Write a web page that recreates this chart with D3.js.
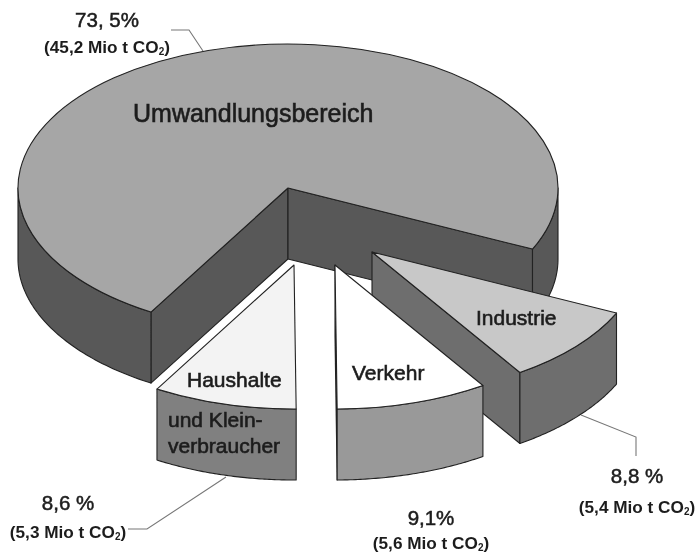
<!DOCTYPE html>
<html>
<head>
<meta charset="utf-8">
<script src="https://cdn.jsdelivr.net/npm/d3@7"></script>
<style>
html,body{margin:0;padding:0;background:#fff;}
svg{display:block;}
text{font-family:"Liberation Sans",Arial,sans-serif;fill:#1c1c1c;}
</style>
</head>
<body>
<svg id="chart" width="698" height="552"></svg>
<script>
// ---- data ----
const categories = ["Umwandlungsbereich", "Industrie", "Verkehr", "Haushalte und Kleinverbraucher"];
const shares = [73.5, 8.8, 9.1, 8.6];
const percentLabels = ["73, 5%", "8,8 %", "9,1%", "8,6 %"];
const tonnes = ["45,2", "5,4", "5,6", "5,3"];

// ---- styles / layout ----
const topColors = ["#a6a6a6", "#c8c8c8", "#ffffff", "#f3f3f3"];
const sideColors = ["#585858", "#6e6e6e", "#999999", "#808080"];
const explodeX = [0, 84, 47, 6];
const explodeY = [0, 64, 77, 77];
const percentAnchors = [[107, 27], [637, 483], [431, 525], [68, 510]];
const tonneAnchors = [[107, 53], [637, 513], [431, 549], [68, 538]];
const leaders = [
  [[171, 30], [189, 30], [203, 51]],
  [[581, 415], [636, 437], [636, 456]],
  [[128, 529], [147, 529], [226, 477]]
];
const sliceLabels = [
  {t: "Umwandlungsbereich", x: 133, y: 122, s: 25},
  {t: "Industrie", x: 476, y: 325, s: 21},
  {t: "Verkehr", x: 352, y: 380, s: 21},
  {t: "Haushalte", x: 187, y: 387, s: 21},
  {t: "und Klein-", x: 168, y: 427, s: 21},
  {t: "verbraucher", x: 168, y: 453, s: 21}
];

const cx = 288, cy = 188, rx = 270, ry = 144, depth = 71;
const startA = 210.5 * Math.PI / 180;
const svg = d3.select("#chart");

svg.append("defs").append("filter").attr("id", "soft")
  .attr("x", "0").attr("y", "0").attr("width", "100%").attr("height", "100%")
  .attr("filterUnits", "userSpaceOnUse")
  .append("feGaussianBlur").attr("stdDeviation", 0.5);
const root = svg.append("g").attr("filter", "url(#soft)");

const pie = d3.pie().sort(null).value(d => d).startAngle(startA).endAngle(startA + 2 * Math.PI);
const arcs = pie(shares);
const arcGen = d3.arc().innerRadius(0).outerRadius(rx);
const px = a => rx * Math.sin(a);
const py = a => -ry * Math.cos(a);
const line = d3.line();
const stroke = "#222";

arcs.forEach((d, i) => {
  const g = root.append("g").attr("transform", `translate(${cx + explodeX[i]},${cy + explodeY[i]})`);
  const wall = (pts, fill) => g.append("path").attr("d", line(pts) + "Z")
    .attr("fill", fill).attr("stroke", stroke).attr("stroke-width", 1.1).attr("stroke-linejoin", "round");

  // flat cut faces that look towards the viewer
  [[d.startAngle, Math.sin(d.startAngle) < 0], [d.endAngle, Math.sin(d.endAngle) > 0]].forEach(([a, vis]) => {
    if (!vis) return;
    wall([[0, 0], [px(a), py(a)], [px(a), py(a) + depth], [0, depth]], sideColors[i]);
  });

  // curved outer wall, front half only
  [0, 1].forEach(k => {
    const lo = Math.max(d.startAngle, Math.PI / 2 + k * 2 * Math.PI);
    const hi = Math.min(d.endAngle, 3 * Math.PI / 2 + k * 2 * Math.PI);
    if (hi <= lo) return;
    const steps = d3.range(0, 61).map(n => lo + (hi - lo) * n / 60);
    const upper = steps.map(a => [px(a), py(a)]);
    const lower = steps.slice().reverse().map(a => [px(a), py(a) + depth]);
    wall(upper.concat(lower), sideColors[i]);
  });

  // top face
  g.append("path").attr("d", arcGen(d))
    .attr("transform", `scale(1,${ry / rx})`)
    .attr("fill", topColors[i]).attr("stroke", stroke).attr("stroke-width", 1.1)
    .attr("stroke-linejoin", "round")
    .attr("vector-effect", "non-scaling-stroke");
});

// leader lines
leaders.forEach(pts => {
  root.append("path").attr("d", line(pts)).attr("fill", "none")
    .attr("stroke", "#777").attr("stroke-width", 1.1);
});

// slice names
sliceLabels.forEach(l => {
  root.append("text").attr("x", l.x).attr("y", l.y).attr("font-size", l.s)
    .attr("stroke", "#1c1c1c").attr("stroke-width", 0.6).text(l.t);
});

// percentages and tonnages
percentLabels.forEach((p, i) => {
  root.append("text").attr("x", percentAnchors[i][0]).attr("y", percentAnchors[i][1])
    .attr("text-anchor", "middle").attr("font-size", 20.5)
    .attr("stroke", "#1c1c1c").attr("stroke-width", 0.5).text(p);
  const t = root.append("text").attr("x", tonneAnchors[i][0]).attr("y", tonneAnchors[i][1])
    .attr("text-anchor", "middle").attr("font-size", 17.2).attr("font-weight", "bold").attr("fill", "#2a2a2a");
  t.append("tspan").text(`(${tonnes[i]} Mio t CO`);
  t.append("tspan").attr("font-size", 10).attr("dy", 2).text("2");
  t.append("tspan").attr("dy", -2).text(")");
});
</script>
</body>
</html>
